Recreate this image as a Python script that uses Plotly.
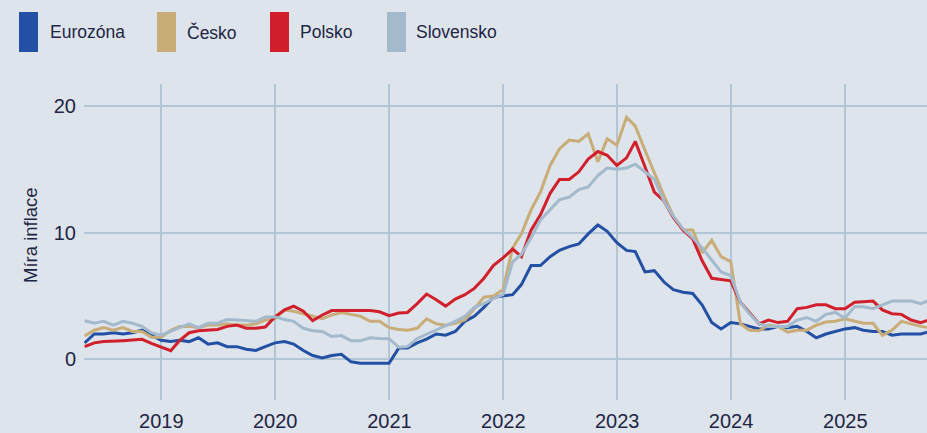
import pandas as pd
import plotly.graph_objects as go

# ---------------- data (monthly, Apr 2018 – Sep 2025) ----------------
start_month = "2018-04-01"
n_months = 90

eurozona = [
    1.3, 2.0, 2.0, 2.1, 2.0, 2.1, 2.3, 1.9, 1.5,                     # 2018 Apr-Dec
    1.4, 1.5, 1.4, 1.7, 1.2, 1.3, 1.0, 1.0, 0.8, 0.7, 1.0, 1.3,        # 2019
    1.4, 1.2, 0.7, 0.3, 0.1, 0.3, 0.4, -0.2, -0.3, -0.3, -0.3, -0.3,   # 2020
    0.9, 0.9, 1.3, 1.6, 2.0, 1.9, 2.2, 3.0, 3.4, 4.1, 4.9, 5.0,        # 2021
    5.1, 5.9, 7.4, 7.4, 8.1, 8.6, 8.9, 9.1, 9.9, 10.6, 10.1, 9.2,      # 2022
    8.6, 8.5, 6.9, 7.0, 6.1, 5.5, 5.3, 5.2, 4.3, 2.9, 2.4, 2.9,        # 2023
    2.8, 2.6, 2.4, 2.4, 2.6, 2.5, 2.6, 2.2, 1.7, 2.0, 2.2, 2.4,        # 2024
    2.5, 2.3, 2.2, 2.2, 1.9, 2.0, 2.0, 2.0, 2.2,                      # 2025 Jan-Sep
]

cesko = [
    1.85, 2.3, 2.5, 2.3, 2.5, 2.2, 2.2, 1.75, 1.75,
    2.3, 2.6, 2.6, 2.5, 2.7, 2.7, 2.8, 2.7, 2.7, 2.8, 3.1, 3.2,
    3.9, 3.8, 3.6, 3.35, 3.2, 3.5, 3.7, 3.55, 3.4, 3.0, 3.0, 2.5,
    2.35, 2.3, 2.45, 3.2, 2.8, 2.7, 2.85, 3.1, 4.0, 4.9, 5.0, 5.5,
    8.8, 9.9, 11.8, 13.2, 15.3, 16.6, 17.3, 17.2, 17.8, 15.6, 17.4, 16.9,
    19.1, 18.4, 16.5, 14.7, 12.9, 11.3, 10.2, 10.2, 8.4, 9.4, 8.1, 7.7,
    2.8, 2.3, 2.25, 2.7, 2.6, 2.15, 2.3, 2.3, 2.7, 2.95, 3.0, 3.2,
    3.0, 2.85, 2.85, 1.9, 2.3, 3.0, 2.8, 2.6, 2.5,
]

polsko = [
    1.0, 1.3, 1.4, 1.42, 1.47, 1.52, 1.58, 1.26, 0.97,
    0.68, 1.47, 2.1, 2.25, 2.3, 2.35, 2.6, 2.7, 2.45, 2.45, 2.55, 3.35,
    3.9, 4.2, 3.8, 3.05, 3.5, 3.85, 3.85, 3.85, 3.9, 3.85, 3.75, 3.45,
    3.65, 3.7, 4.4, 5.15, 4.7, 4.2, 4.75, 5.1, 5.6, 6.4, 7.4, 8.0,
    8.7, 8.1, 10.2, 11.4, 13.1, 14.2, 14.2, 14.8, 15.8, 16.4, 16.1, 15.3,
    15.9, 17.2, 15.2, 13.2, 12.5, 11.2, 10.2, 9.5, 7.8, 6.4, 6.3, 6.2,
    4.5, 3.7, 2.8, 3.1, 2.9, 3.0, 4.0, 4.1, 4.3, 4.3, 4.0, 4.0,
    4.5, 4.55, 4.6, 3.9, 3.6, 3.55, 3.1, 2.9, 3.15,
]

slovensko = [
    3.05, 2.85, 3.0, 2.7, 3.0, 2.85, 2.6, 2.1, 1.9,
    2.2, 2.5, 2.8, 2.5, 2.85, 2.85, 3.15, 3.1, 3.05, 3.0, 3.35, 3.35,
    3.15, 3.0, 2.45, 2.25, 2.2, 1.8, 1.87, 1.47, 1.47, 1.7, 1.65, 1.63,
    0.95, 1.0, 1.65, 2.0, 2.35, 2.65, 3.0, 3.4, 4.1, 4.4, 4.8, 5.1,
    7.7, 8.3, 9.6, 11.0, 11.8, 12.6, 12.8, 13.4, 13.6, 14.5, 15.1, 15.0,
    15.1, 15.4, 14.8, 14.2, 12.5, 11.3, 10.3, 9.6, 8.8, 7.8, 6.9, 6.6,
    4.5, 3.6, 2.8, 2.6, 2.6, 2.6, 3.1, 3.3, 3.0, 3.55, 3.7, 3.25,
    4.15, 4.15, 4.0, 4.3, 4.6, 4.6, 4.6, 4.4, 4.7,
]

series_names = ["Eurozóna", "Česko", "Polsko", "Slovensko"]
y_ticks = [0, 10, 20]
y_title = "Míra inflace"

# ---------------- styling ----------------
colors = ["#2350a5", "#c9ad79", "#d21f2c", "#a3bacd"]
bg = "#dde4eb"
grid = "#b3c6d5"
text_col = "#1f2544"
font_family = "Liberation Sans, Arial, sans-serif"

W, H = 927, 433
L, R, T, B = 84, 0, 84, 33
plot_w = W - L - R
plot_h = H - T - B


def px_x(x):
    return (x - L) / plot_w


def px_y(y):
    return (H - B - y) / plot_h


months = pd.date_range(start_month, periods=n_months, freq="MS") + pd.offsets.MonthEnd(0)

fig = go.Figure()
for name, vals, col in zip(series_names, [eurozona, cesko, polsko, slovensko], colors):
    fig.add_trace(go.Scatter(
        x=months, y=vals, mode="lines", name=name,
        line=dict(color=col, width=3), showlegend=False,
    ))

# manual legend (tall colour blocks + labels)
legend_block_x = [19, 157, 270, 387]
legend_text_x = [48, 185, 298, 414]
shapes = []
annotations = []
for i, name in enumerate(series_names):
    x0 = legend_block_x[i]
    shapes.append(dict(
        type="rect", xref="paper", yref="paper",
        x0=px_x(x0), x1=px_x(x0 + 19), y0=px_y(52), y1=px_y(12),
        fillcolor=colors[i], line=dict(width=0),
    ))
    annotations.append(dict(
        xref="paper", yref="paper", x=px_x(legend_text_x[i]), y=px_y(32),
        xanchor="left", yanchor="middle", text=name, showarrow=False,
        font=dict(size=17.5, color=text_col, family=font_family),
    ))

annotations.append(dict(
    xref="paper", yref="paper", x=px_x(30), y=px_y(235),
    xanchor="center", yanchor="middle", text=y_title, textangle=-90,
    showarrow=False, font=dict(size=18.5, color=text_col, family=font_family),
))

fig.update_layout(
    width=W, height=H, autosize=False,
    margin=dict(l=L, r=R, t=T, b=B, pad=0),
    paper_bgcolor=bg, plot_bgcolor=bg,
    font=dict(family=font_family, color=text_col, size=20),
    shapes=shapes, annotations=annotations,
    showlegend=False,
    xaxis=dict(
        type="date", range=["2018-04-28", "2025-09-20"],
        tick0="2019-01-01", dtick="M12", tickformat="%Y",
        showgrid=True, gridcolor=grid, gridwidth=1.5,
        zeroline=False, showline=False, ticks="",
        ticklabelstandoff=7,
        tickfont=dict(size=20, color=text_col),
    ),
    yaxis=dict(
        range=[-3.21, 21.73], tickvals=y_ticks,
        showgrid=True, gridcolor=grid, gridwidth=1.5,
        zeroline=False, showline=False, ticks="",
        ticklabelstandoff=7,
        tickfont=dict(size=20, color=text_col),
    ),
)

fig.write_html(
    "out.html",
    config={"displayModeBar": False},
    post_script=(
        "document.body.style.margin='0';"
        "document.body.style.padding='0';"
        "document.body.style.overflow='hidden';"
        f"document.body.style.background='{bg}';"
    ),
)
